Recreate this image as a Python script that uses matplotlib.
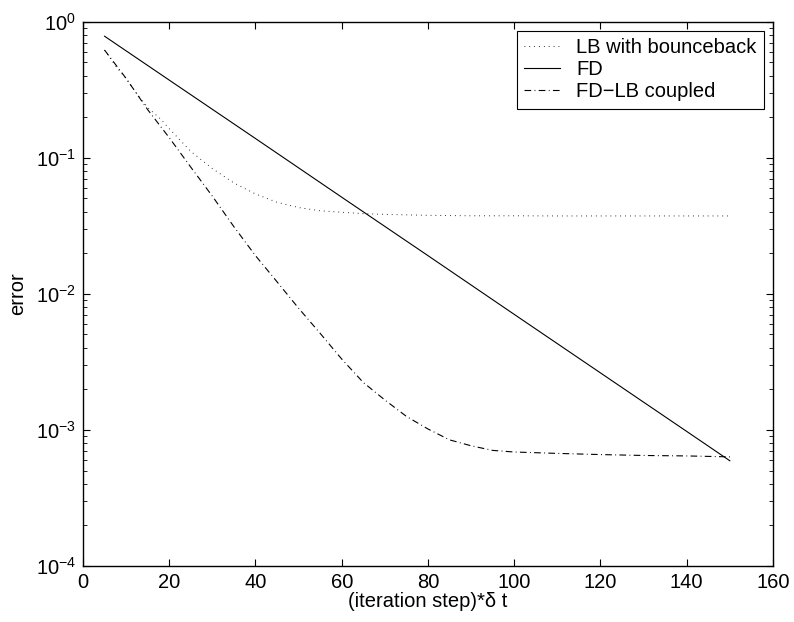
import matplotlib
matplotlib.use("Agg")
import matplotlib.pyplot as plt
from matplotlib.ticker import LogLocator, FixedLocator

plt.rcParams['font.family'] = ['Liberation Sans', 'DejaVu Sans']
plt.rcParams['mathtext.fontset'] = 'custom'
plt.rcParams['mathtext.rm'] = 'Liberation Sans'
plt.rcParams['mathtext.it'] = 'Liberation Sans:italic'
plt.rcParams['mathtext.bf'] = 'Liberation Sans:bold'

# Data
fd_x = [5, 20, 40, 60, 80, 100, 120, 140, 150]
fd_y = [0.78, 0.371, 0.138, 0.0511, 0.0190, 0.00703, 0.00261, 0.000969, 0.00059]

lb_x = [5, 7.7, 10, 12, 15, 18, 20, 25, 30, 35, 40, 45, 50, 55, 60, 65, 70, 80, 90, 100, 110, 120, 130, 140, 150]
lb_y = [0.617, 0.465, 0.38, 0.31, 0.233, 0.192, 0.163, 0.111, 0.083, 0.065, 0.054, 0.0469, 0.0429,
        0.0406, 0.0396, 0.0387, 0.0382, 0.0376, 0.0373, 0.0373, 0.0372, 0.0372, 0.0372, 0.0372, 0.0372]

cp_x = [5, 10, 15, 20, 25, 30, 35, 40, 45, 50, 55, 60, 65, 70, 75, 80, 85, 90, 95, 100, 110, 120, 130, 140, 150]
cp_y = [0.617, 0.382, 0.225, 0.14, 0.085, 0.052, 0.031, 0.019, 0.0122, 0.0078, 0.0051, 0.0033, 0.00222,
        0.00165, 0.00125, 0.00101, 0.00084, 0.00076, 0.000703, 0.000684, 0.000668, 0.000655, 0.000645,
        0.00064, 0.00063]

xticks = [0, 20, 40, 60, 80, 100, 120, 140, 160]

FS = 14.5

fig = plt.figure(figsize=(7.94, 6.22), dpi=100)
ax = fig.add_axes([0.1045, 0.0907, 0.869, 0.8747])

ax.plot(lb_x, lb_y, color='black', lw=0.7, linestyle=(0, (0.8, 4.2)), label='LB with bounceback')
ax.plot(fd_x, fd_y, color='black', lw=0.8, linestyle='-', label='FD')
ax.plot(cp_x, cp_y, color='black', lw=0.8, linestyle=(0, (6.0, 3.0, 0.8, 3.0)), label='FD\u2212LB coupled')

ax.set_yscale('log')
ax.set_xlim(0, 160)
ax.set_ylim(1e-4, 1)
ax.xaxis.set_major_locator(FixedLocator(xticks))
ax.yaxis.set_major_locator(LogLocator(base=10, numticks=10))
ax.yaxis.set_minor_locator(LogLocator(base=10, subs=range(2, 10), numticks=20))

ax.tick_params(axis='both', which='both', direction='in', top=True, right=True, labelsize=FS)
ax.tick_params(which='major', length=5, width=0.8)
ax.tick_params(which='minor', length=3, width=0.6)
ax.tick_params(axis='x', pad=5)
ax.tick_params(axis='y', pad=5)
for s in ax.spines.values():
    s.set_linewidth(1.0)

ax.set_xlabel('(iteration step)*\u03b4 t', fontsize=FS, labelpad=0)
ax.set_ylabel('error', fontsize=FS, labelpad=6)

leg = ax.legend(loc='upper right', fontsize=FS, frameon=True, fancybox=False, framealpha=1,
                edgecolor='black', handlelength=1.8, borderpad=0.35, labelspacing=0.17,
                handletextpad=0.8, borderaxespad=0.45)
leg.get_frame().set_linewidth(0.8)

fig.savefig('out.png', dpi=100)
